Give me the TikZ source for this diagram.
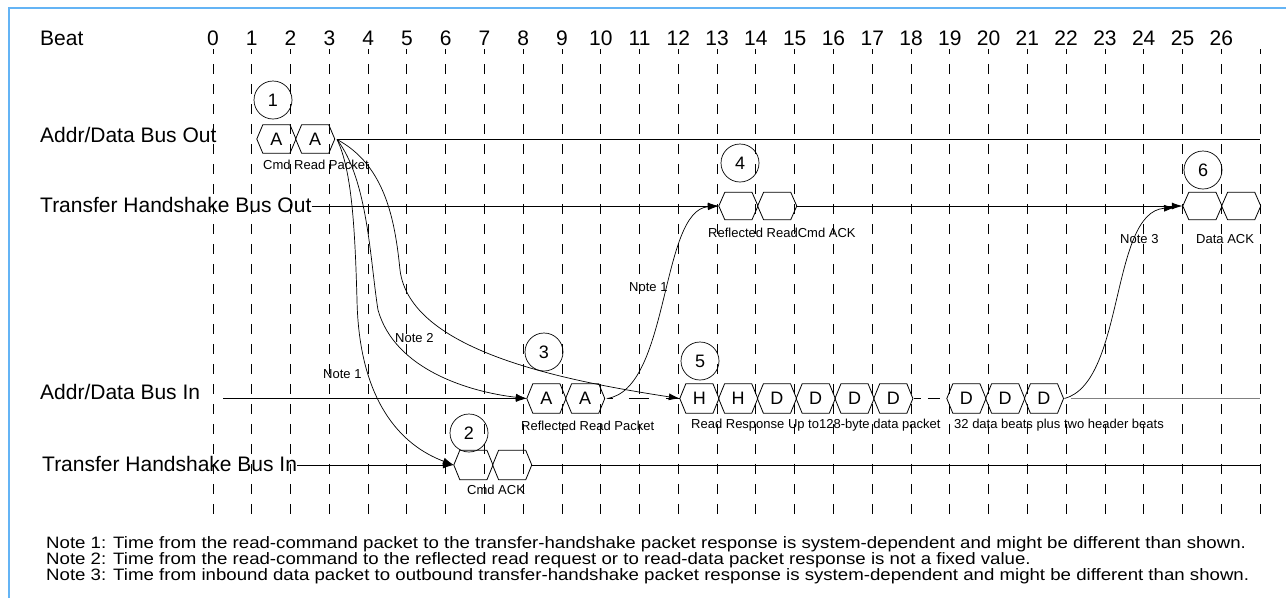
\documentclass[tikz,border=0pt]{standalone}
\usepackage{fontspec}
\setmainfont{Liberation Sans}
\newfontfamily\notefont[FakeStretch=1.13]{Liberation Sans}
\usetikzlibrary{arrows.meta,calc}
\definecolor{framecol}{RGB}{100,180,245}
\newcommand\hexbox[5]{%
  \node[hexlbl, minimum height=#4] (#1) at (#2+19.39,#3) {#5};
  \draw[hexline] (#1.west) -- ([xshift=6pt]#1.north west) -- ([xshift=-6pt]#1.north east) -- (#1.east) -- ([xshift=-6pt]#1.south east) -- ([xshift=6pt]#1.south west) -- cycle;
}
\begin{document}
\begin{tikzpicture}[x=1pt,y=-1pt,
  lbl/.style={font=\fontsize{21}{24}\selectfont, inner sep=0pt, anchor=west},
  num/.style={font=\fontsize{21}{24}\selectfont, inner sep=0pt},
  small/.style={font=\fontsize{13}{15}\selectfont, inner sep=0pt, anchor=west},
  notes/.style={font=\notefont\fontsize{16.5}{18}\selectfont, inner sep=0pt, anchor=west},
  hexlbl/.style={font=\fontsize{18}{20}\selectfont, inner sep=0pt, minimum width=38.78pt},
  hexline/.style={line width=0.8pt, line join=miter},
  gridline/.style={line width=0.9pt, dash pattern=on 10pt off 10pt, dash phase=5pt},
  bus/.style={line width=1pt},
  curve/.style={line width=0.7pt},
  arr/.style={-{Latex[length=11pt,width=7pt]}},
  circ/.style={circle, draw, line width=0.7pt, minimum size=38pt, inner sep=0pt, font=\fontsize{18}{20}\selectfont},
]
\useasboundingbox (0,0) rectangle (1286,598);
\draw[framecol, line width=2pt] (9,598) -- (9,8) -- (1286,8);

% beat header and grid
\node[lbl] (beat) at (40,38) {Beat};
\foreach \i in {0,...,27} {
  \pgfmathsetmacro\bx{213+38.78*\i}
  \ifnum\i<27 \node[num] (n\i) at (\bx,38) {\i};\fi
  \draw[gridline] (\bx,49) -- (\bx,514);
}

% row labels
\node[lbl] (lao) at (40,135) {Addr/Data Bus Out};
\node[lbl] (lto) at (40,204.5) {Transfer Handshake Bus Out};
\node[lbl] (lai) at (40,392) {Addr/Data Bus In};
\node[lbl] (lti) at (42,463.5) {Transfer Handshake Bus In};

% hexagons
\hexbox{a1}{257}{139}{28pt}{A}
\hexbox{a2}{295.8}{139}{28pt}{A}
\hexbox{k4a}{719}{206}{27pt}{}
\hexbox{k4b}{757.78}{206}{27pt}{}
\hexbox{k6a}{1183}{206}{27pt}{}
\hexbox{k6b}{1221.78}{206}{27pt}{}
\hexbox{r3a}{527}{398.5}{29pt}{A}
\hexbox{r3b}{565.78}{398.5}{29pt}{A}
\hexbox{h1}{680}{398.5}{29pt}{H}
\hexbox{h2}{718.78}{398.5}{29pt}{H}
\hexbox{d1}{757.56}{398.5}{29pt}{D}
\hexbox{d2}{796.34}{398.5}{29pt}{D}
\hexbox{d3}{835.12}{398.5}{29pt}{D}
\hexbox{d4}{873.9}{398.5}{29pt}{D}
\hexbox{d5}{947}{398.5}{29pt}{D}
\hexbox{d6}{985.78}{398.5}{29pt}{D}
\hexbox{d7}{1024.56}{398.5}{29pt}{D}
\hexbox{c2a}{454}{465}{29pt}{}
\hexbox{c2b}{492.78}{465}{29pt}{}

% circled numbers
\node[circ] (c1) at (273,100) {1};
\node[circ] (c2) at (469,433) {2};
\node[circ] (c3) at (544,352) {3};
\node[circ] (c4) at (740,163) {4};
\node[circ] (c5) at (700,361) {5};
\node[circ] (c6) at (1203,170) {6};

% small labels
\node[small] (t1) at (263,165) {Cmd Read Packet};
\node[small] (t2) at (708,233) {Reflected ReadCmd ACK};
\node[small] (t3) at (1196,239) {Data ACK};
\node[small] (t4) at (1120,239) {Note 3};
\node[small] (t5) at (629,287) {Note 1};
\node[small] (t6) at (395,338) {Note 2};
\node[small] (t7) at (323,374) {Note 1};
\node[small] (t8) at (521,426) {Reflected Read Packet};
\node[small] (t9) at (691,425) {Read Response Up to128-byte data packet};
\node[small] (t10) at (954,425) {32 data beats plus two header beats};
\node[small] (t11) at (467,490) {Cmd ACK};

% buses
\coordinate (aoend) at (1260,139);
\draw[bus] ([xshift=2pt]a2.east) -- (aoend);
\draw[bus,arr] (lto.east |- k4a.west) -- (k4a.west);
\draw[bus,arr] (k4b.east) -- (k6a.west);
\coordinate (aistart) at (223,398.5);
\draw[bus,arr] (aistart) -- (r3a.west);
\draw[bus, dash pattern=on 5pt off 16pt on 20pt off 17pt on 20pt off 100pt] ([xshift=3pt]r3b.east) -- (h1.west);
\draw[bus, dash pattern=on 7pt off 7pt on 12pt off 100pt] ([xshift=1pt]d4.east) -- (d5.west);
\coordinate (aiend) at (1260,398.5);
\draw[bus, gray] ([xshift=7pt]d7.east) -- (aiend);
\draw[bus,arr] (lti.east |- c2a.west) -- (c2a.west);
\coordinate (tiend) at (1260,465);
\draw[bus] (c2b.east) -- (tiend);

% timing curves
\coordinate (fan) at (337,139.5);
\draw[curve,arr] (fan) .. controls (352,170) and (355,230) .. (357,300) .. controls (359,400) and (400,445) .. (c2a.west);
\draw[curve,arr] (fan) .. controls (368,180) and (370,260) .. (378,310) .. controls (395,370) and (470,392) .. (r3a.west);
\draw[curve,arr] (fan) .. controls (385,165) and (395,220) .. (400,270) .. controls (410,350) and (560,380) .. (h1.west);
\draw[curve,arr] ([xshift=2pt]r3b.east) .. controls (670,390) and (660,210) .. (k4a.west);
\coordinate (n3end) at (1175,207.5);
\draw[curve,arr] ([xshift=1pt]d7.east) .. controls (1125,382) and (1110,212) .. (n3end);

% notes
\node[notes] (nt1) at (46,544) {Note 1: Time from the read-command packet to the transfer-handshake packet response is system-dependent and might be different than shown.};
\node[notes] (nt2) at (46,560) {Note 2: Time from the read-command to the reflected read request or to read-data packet response is not a fixed value.};
\node[notes] (nt3) at (46,576) {Note 3: Time from inbound data packet to outbound transfer-handshake packet response is system-dependent and might be different than shown.};
\end{tikzpicture}
\end{document}
